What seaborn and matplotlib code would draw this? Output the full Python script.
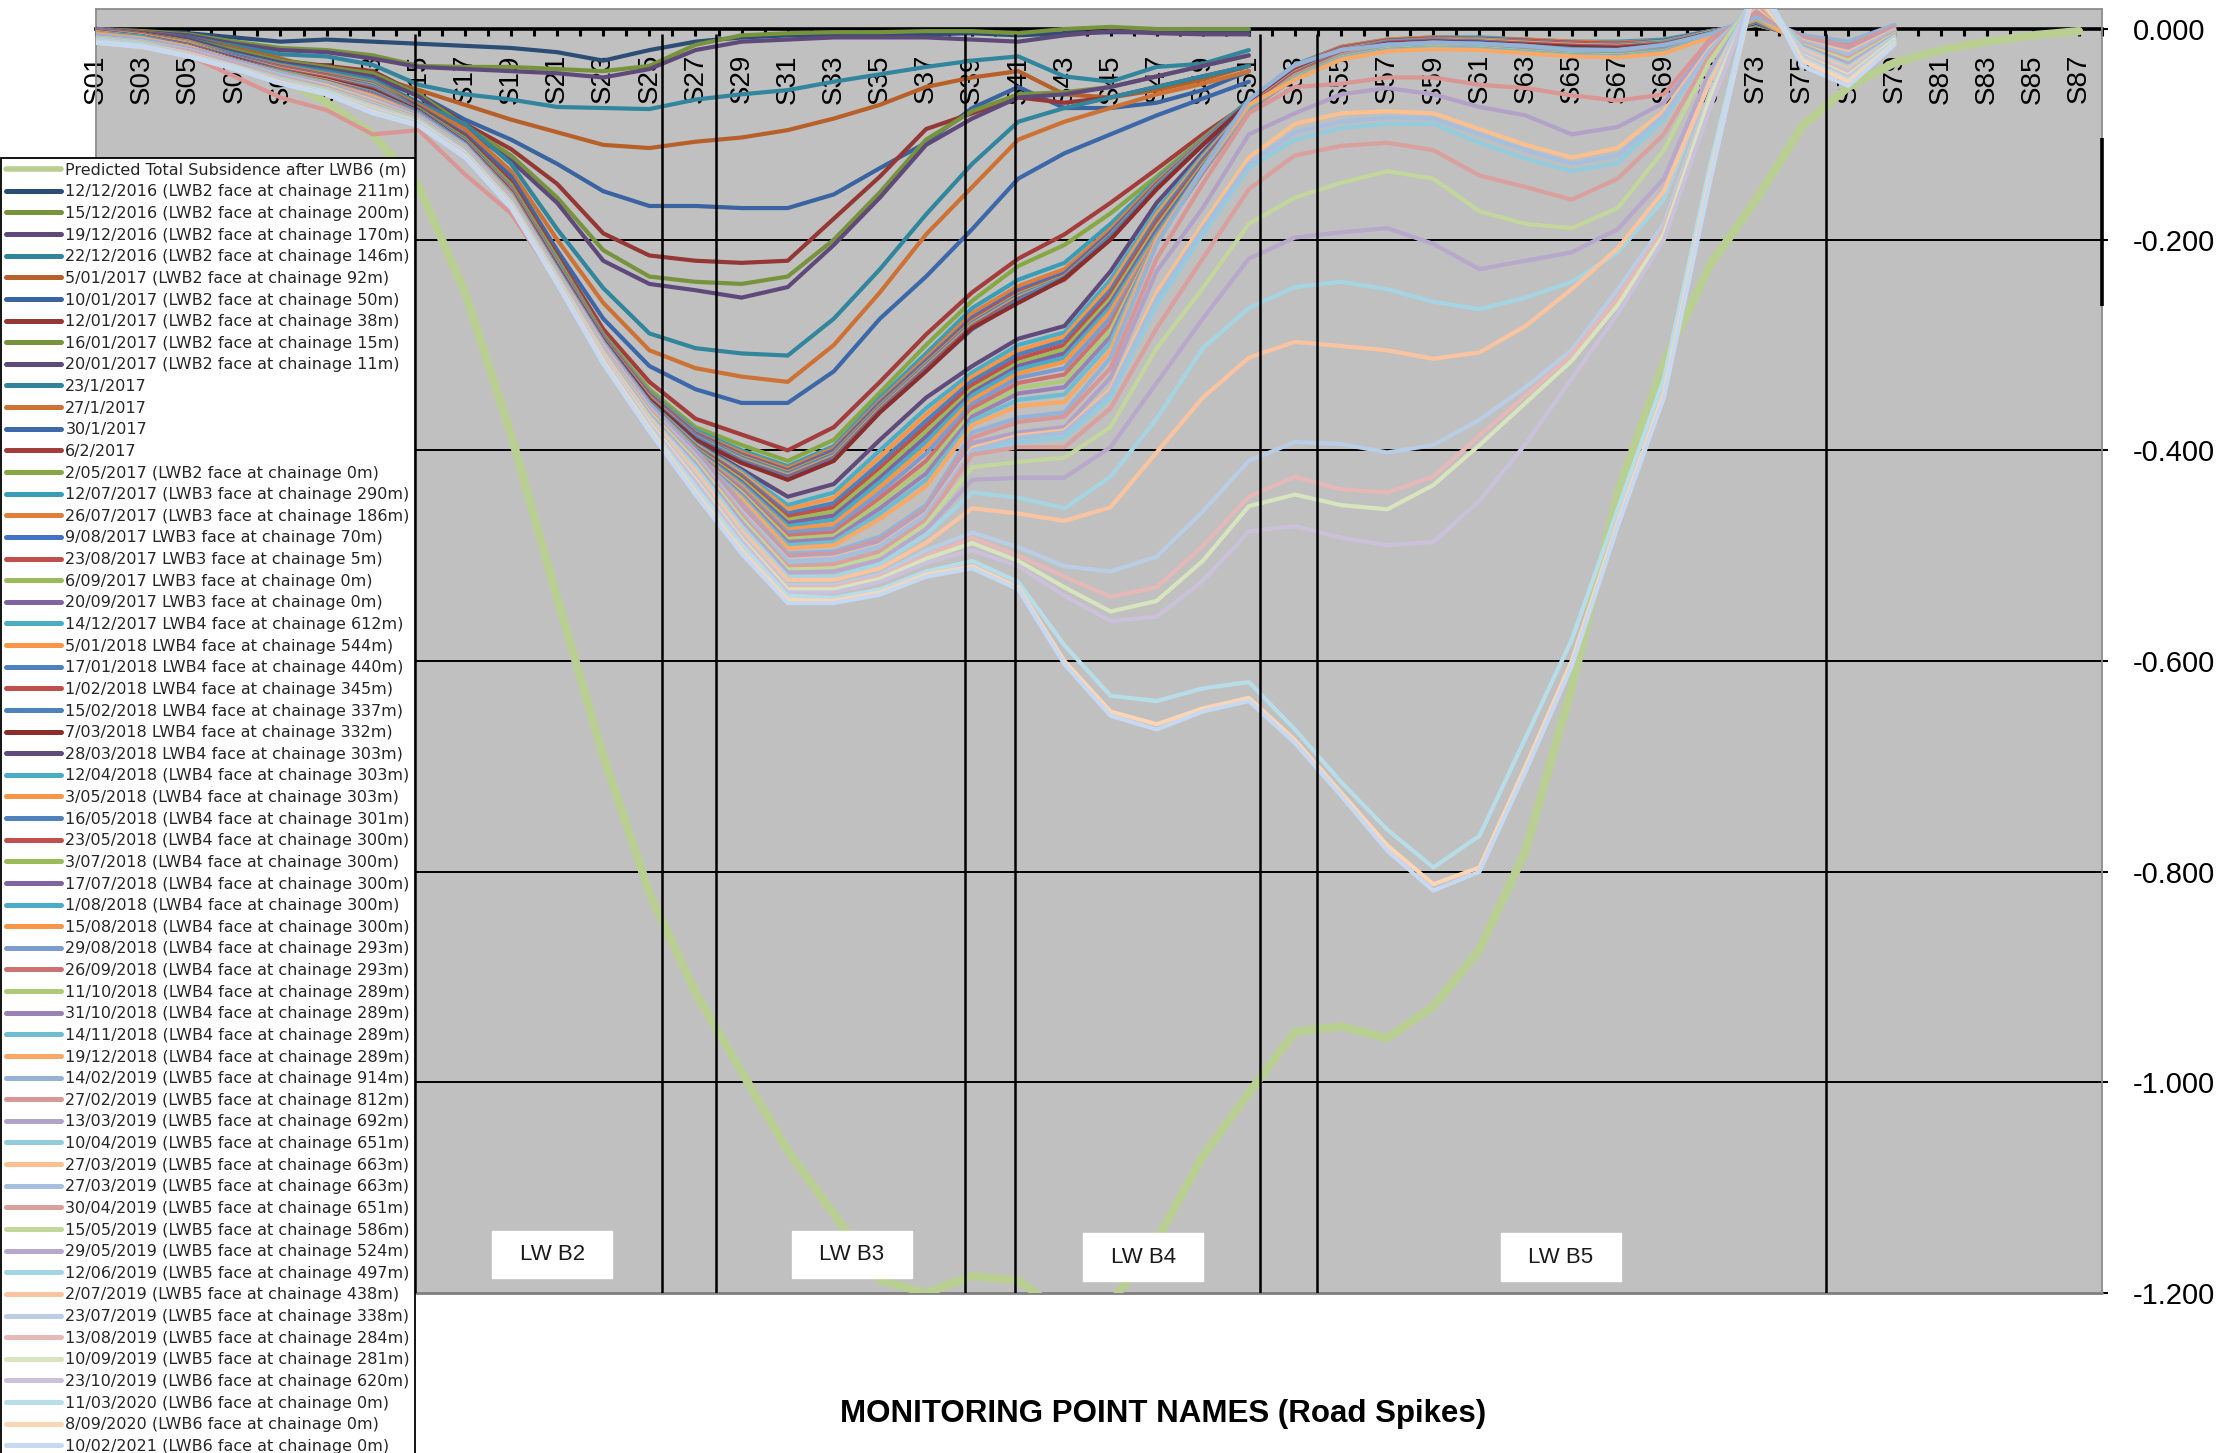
import matplotlib
matplotlib.use("Agg")
import matplotlib.pyplot as plt
import pandas as pd
import seaborn as sns
from matplotlib.lines import Line2D
from matplotlib.patches import Rectangle
from matplotlib.ticker import FixedLocator, FixedFormatter, FormatStrFormatter

sns.set_theme(style="white")
plt.rcParams['font.family'] = ['Liberation Sans', 'DejaVu Sans']
plt.rcParams['axes.unicode_minus'] = False

# ---------------- data ----------------
odd_stations = ["S01", "S03", "S05", "S07", "S09", "S11", "S13", "S15", "S17", "S19", "S21",
                "S23", "S25", "S27", "S29", "S31", "S33", "S35", "S37", "S39", "S41", "S43",
                "S45", "S47", "S49", "S51", "S53", "S55", "S57", "S59", "S61", "S63", "S65",
                "S67", "S69", "S71", "S73", "S75", "S77", "S79", "S81", "S83", "S85", "S87"]

predicted = [-0.005, -0.01, -0.02, -0.03, -0.045, -0.07, -0.10, -0.15, -0.25, -0.385, -0.54,
             -0.69, -0.82, -0.915, -0.99, -1.065, -1.125, -1.188, -1.2, -1.184, -1.188, -1.22,
             -1.21, -1.15, -1.07, -1.01, -0.952, -0.947, -0.958, -0.928, -0.874, -0.78, -0.626,
             -0.44, -0.317, -0.224, -0.162, -0.092, -0.055, -0.032, -0.02, -0.012, -0.006, -0.002]

# LWB2 surveys (S01-S51)
s02 = [0.0, -0.002, -0.004, -0.008, -0.012, -0.01, -0.012, -0.014, -0.016, -0.018, -0.022, -0.03, -0.02, -0.012, -0.008, -0.006, -0.006, -0.005, -0.005, -0.004, -0.006, -0.004, -0.003, -0.003, -0.002, -0.002]
s03 = [0.0, -0.002, -0.005, -0.012, -0.018, -0.02, -0.025, -0.035, -0.036, -0.036, -0.038, -0.04, -0.035, -0.015, -0.006, -0.004, -0.003, -0.003, -0.002, -0.002, -0.004, 0.0, 0.002, 0.0, 0.0, 0.0]
s04 = [0.0, -0.003, -0.006, -0.014, -0.02, -0.022, -0.028, -0.036, -0.038, -0.04, -0.042, -0.046, -0.038, -0.02, -0.012, -0.01, -0.008, -0.008, -0.008, -0.01, -0.012, -0.006, -0.002, -0.004, -0.005, -0.005]
s05 = [0.0, -0.003, -0.008, -0.016, -0.024, -0.026, -0.034, -0.053, -0.062, -0.067, -0.074, -0.075, -0.076, -0.067, -0.062, -0.058, -0.05, -0.043, -0.036, -0.03, -0.026, -0.045, -0.05, -0.036, -0.033, -0.02]
s06 = [0.0, -0.003, -0.008, -0.018, -0.028, -0.04, -0.045, -0.058, -0.072, -0.086, -0.098, -0.11, -0.113, -0.107, -0.103, -0.096, -0.085, -0.072, -0.055, -0.046, -0.04, -0.062, -0.065, -0.058, -0.048, -0.035]
s07 = [0.0, -0.004, -0.008, -0.02, -0.03, -0.042, -0.048, -0.062, -0.086, -0.105, -0.128, -0.154, -0.168, -0.168, -0.17, -0.17, -0.157, -0.132, -0.108, -0.075, -0.055, -0.075, -0.075, -0.07, -0.058, -0.04]
s08 = [0.0, -0.004, -0.01, -0.022, -0.03, -0.035, -0.04, -0.062, -0.09, -0.114, -0.147, -0.194, -0.215, -0.22, -0.222, -0.22, -0.18, -0.14, -0.095, -0.08, -0.065, -0.07, -0.065, -0.055, -0.045, -0.035]
s09 = [0.0, -0.004, -0.01, -0.02, -0.03, -0.036, -0.042, -0.062, -0.092, -0.12, -0.16, -0.21, -0.235, -0.24, -0.242, -0.235, -0.2, -0.155, -0.105, -0.078, -0.062, -0.06, -0.055, -0.045, -0.035, -0.025]
s10 = [0.0, -0.004, -0.01, -0.022, -0.032, -0.038, -0.045, -0.064, -0.095, -0.125, -0.165, -0.22, -0.242, -0.248, -0.255, -0.245, -0.205, -0.16, -0.11, -0.085, -0.065, -0.062, -0.055, -0.045, -0.035, -0.025]
s11 = [0.0, -0.005, -0.012, -0.024, -0.034, -0.04, -0.048, -0.07, -0.09, -0.128, -0.19, -0.246, -0.289, -0.303, -0.308, -0.31, -0.275, -0.228, -0.176, -0.128, -0.088, -0.075, -0.065, -0.055, -0.045, -0.035]
s12 = [0.0, -0.005, -0.012, -0.025, -0.035, -0.042, -0.05, -0.072, -0.095, -0.135, -0.2, -0.26, -0.305, -0.322, -0.33, -0.335, -0.3, -0.25, -0.195, -0.15, -0.105, -0.088, -0.075, -0.062, -0.052, -0.04]
s13 = [0.0, -0.005, -0.013, -0.026, -0.036, -0.044, -0.052, -0.074, -0.1, -0.14, -0.21, -0.275, -0.32, -0.342, -0.355, -0.355, -0.325, -0.275, -0.235, -0.19, -0.142, -0.118, -0.1, -0.082, -0.066, -0.05]
s14 = [0.0, -0.005, -0.013, -0.027, -0.037, -0.045, -0.054, -0.075, -0.102, -0.145, -0.215, -0.285, -0.335, -0.37, -0.385, -0.4, -0.378, -0.335, -0.29, -0.25, -0.218, -0.195, -0.165, -0.133, -0.1, -0.07]
s15 = [0.0, -0.006, -0.014, -0.028, -0.038, -0.046, -0.055, -0.076, -0.104, -0.148, -0.218, -0.29, -0.342, -0.378, -0.395, -0.41, -0.39, -0.345, -0.3, -0.258, -0.225, -0.205, -0.175, -0.14, -0.104, -0.068]

# LWB3 / LWB4 surveys (S01-S79)
s16 = [0.0, -0.005, -0.012, -0.024, -0.034, -0.042, -0.05, -0.077, -0.105, -0.15, -0.22, -0.291, -0.345, -0.381, -0.4, -0.415, -0.396, -0.35, -0.308, -0.265, -0.238, -0.222, -0.185, -0.143, -0.105, -0.068, -0.034, -0.017, -0.01, -0.008, -0.008, -0.01, -0.012, -0.012, -0.01, -0.002, 0.004, -0.006, -0.014, -0.004]
s17 = [0.0, -0.005, -0.012, -0.025, -0.035, -0.043, -0.051, -0.077, -0.106, -0.151, -0.221, -0.292, -0.346, -0.383, -0.402, -0.417, -0.398, -0.353, -0.312, -0.27, -0.244, -0.228, -0.19, -0.145, -0.106, -0.069, -0.035, -0.017, -0.01, -0.008, -0.009, -0.01, -0.012, -0.013, -0.011, -0.002, 0.005, -0.006, -0.015, -0.004]
s18 = [0.0, -0.005, -0.013, -0.025, -0.036, -0.044, -0.052, -0.077, -0.106, -0.152, -0.222, -0.293, -0.347, -0.384, -0.404, -0.419, -0.4, -0.355, -0.315, -0.274, -0.248, -0.232, -0.193, -0.147, -0.107, -0.069, -0.036, -0.018, -0.011, -0.009, -0.009, -0.011, -0.013, -0.014, -0.011, -0.002, 0.005, -0.007, -0.015, -0.005]
s19 = [-0.001, -0.005, -0.013, -0.026, -0.036, -0.044, -0.053, -0.078, -0.107, -0.152, -0.223, -0.293, -0.348, -0.385, -0.405, -0.42, -0.402, -0.357, -0.317, -0.276, -0.25, -0.234, -0.195, -0.148, -0.108, -0.07, -0.036, -0.018, -0.011, -0.009, -0.01, -0.011, -0.013, -0.014, -0.012, -0.003, 0.004, -0.007, -0.016, -0.005]
s20 = [-0.001, -0.006, -0.013, -0.026, -0.037, -0.045, -0.053, -0.078, -0.107, -0.153, -0.223, -0.294, -0.349, -0.386, -0.406, -0.421, -0.403, -0.358, -0.318, -0.278, -0.252, -0.235, -0.196, -0.149, -0.108, -0.07, -0.037, -0.019, -0.012, -0.01, -0.01, -0.012, -0.014, -0.015, -0.012, -0.003, 0.004, -0.007, -0.016, -0.005]
s21 = [-0.001, -0.006, -0.014, -0.026, -0.037, -0.045, -0.054, -0.078, -0.107, -0.153, -0.224, -0.294, -0.349, -0.386, -0.407, -0.422, -0.404, -0.359, -0.319, -0.279, -0.253, -0.236, -0.197, -0.15, -0.109, -0.07, -0.037, -0.019, -0.012, -0.01, -0.011, -0.012, -0.014, -0.015, -0.013, -0.003, 0.005, -0.008, -0.016, -0.005]
s22 = [-0.002, -0.006, -0.014, -0.027, -0.038, -0.046, -0.055, -0.078, -0.107, -0.153, -0.224, -0.295, -0.35, -0.387, -0.408, -0.423, -0.405, -0.36, -0.32, -0.28, -0.254, -0.236, -0.197, -0.15, -0.109, -0.07, -0.038, -0.02, -0.012, -0.01, -0.011, -0.013, -0.015, -0.016, -0.013, -0.003, 0.005, -0.008, -0.017, -0.005]
s23 = [-0.002, -0.006, -0.014, -0.027, -0.038, -0.046, -0.056, -0.078, -0.107, -0.154, -0.225, -0.295, -0.35, -0.388, -0.409, -0.424, -0.406, -0.361, -0.321, -0.281, -0.255, -0.237, -0.198, -0.151, -0.109, -0.07, -0.038, -0.02, -0.013, -0.011, -0.011, -0.013, -0.015, -0.016, -0.014, -0.003, 0.006, -0.008, -0.017, -0.006]
s24 = [-0.002, -0.007, -0.015, -0.027, -0.039, -0.047, -0.056, -0.078, -0.108, -0.154, -0.225, -0.295, -0.351, -0.388, -0.41, -0.425, -0.407, -0.362, -0.322, -0.282, -0.256, -0.237, -0.198, -0.151, -0.11, -0.07, -0.039, -0.021, -0.013, -0.011, -0.012, -0.014, -0.016, -0.017, -0.014, -0.004, 0.006, -0.008, -0.017, -0.006]
s25 = [-0.002, -0.007, -0.015, -0.028, -0.039, -0.047, -0.057, -0.078, -0.108, -0.154, -0.225, -0.296, -0.351, -0.389, -0.411, -0.426, -0.408, -0.362, -0.323, -0.283, -0.257, -0.238, -0.199, -0.152, -0.11, -0.07, -0.039, -0.021, -0.013, -0.011, -0.012, -0.014, -0.016, -0.017, -0.014, -0.004, 0.006, -0.009, -0.018, -0.006]
s26 = [-0.003, -0.007, -0.015, -0.028, -0.04, -0.048, -0.058, -0.078, -0.108, -0.155, -0.226, -0.296, -0.352, -0.389, -0.411, -0.427, -0.409, -0.363, -0.324, -0.285, -0.258, -0.236, -0.197, -0.15, -0.109, -0.069, -0.04, -0.021, -0.014, -0.012, -0.012, -0.015, -0.017, -0.018, -0.015, -0.004, 0.006, -0.009, -0.018, -0.006]
s27 = [-0.003, -0.007, -0.016, -0.028, -0.04, -0.048, -0.058, -0.078, -0.108, -0.155, -0.226, -0.296, -0.352, -0.39, -0.412, -0.428, -0.41, -0.364, -0.325, -0.284, -0.26, -0.237, -0.2, -0.152, -0.11, -0.07, -0.04, -0.022, -0.014, -0.012, -0.013, -0.015, -0.017, -0.018, -0.015, -0.004, 0.006, -0.009, -0.018, -0.006]
s28 = [-0.003, -0.007, -0.016, -0.029, -0.04, -0.049, -0.06, -0.079, -0.108, -0.156, -0.227, -0.297, -0.354, -0.393, -0.418, -0.444, -0.432, -0.39, -0.35, -0.32, -0.294, -0.282, -0.23, -0.165, -0.117, -0.072, -0.04, -0.022, -0.014, -0.012, -0.013, -0.016, -0.019, -0.019, -0.016, -0.004, 0.006, -0.009, -0.019, -0.006]
s29 = [-0.003, -0.007, -0.016, -0.029, -0.04, -0.049, -0.06, -0.079, -0.109, -0.156, -0.227, -0.297, -0.354, -0.394, -0.42, -0.452, -0.44, -0.4, -0.36, -0.326, -0.3, -0.288, -0.238, -0.172, -0.12, -0.073, -0.041, -0.022, -0.015, -0.013, -0.014, -0.016, -0.019, -0.02, -0.016, -0.004, 0.007, -0.009, -0.019, -0.006]
s30 = [-0.003, -0.008, -0.016, -0.029, -0.041, -0.049, -0.061, -0.079, -0.109, -0.156, -0.228, -0.298, -0.355, -0.395, -0.422, -0.456, -0.445, -0.406, -0.366, -0.33, -0.305, -0.292, -0.243, -0.176, -0.122, -0.073, -0.041, -0.023, -0.015, -0.013, -0.014, -0.017, -0.02, -0.02, -0.017, -0.005, 0.007, -0.01, -0.02, -0.007]
s31 = [-0.004, -0.008, -0.016, -0.029, -0.041, -0.05, -0.061, -0.079, -0.109, -0.157, -0.228, -0.298, -0.355, -0.396, -0.424, -0.46, -0.45, -0.412, -0.372, -0.334, -0.309, -0.296, -0.248, -0.18, -0.124, -0.074, -0.042, -0.023, -0.015, -0.013, -0.014, -0.017, -0.02, -0.021, -0.017, -0.005, 0.007, -0.01, -0.02, -0.007]
s32 = [-0.004, -0.008, -0.016, -0.029, -0.041, -0.05, -0.062, -0.08, -0.11, -0.157, -0.228, -0.298, -0.356, -0.397, -0.426, -0.463, -0.454, -0.417, -0.377, -0.338, -0.313, -0.3, -0.252, -0.184, -0.127, -0.074, -0.042, -0.023, -0.016, -0.014, -0.015, -0.018, -0.021, -0.021, -0.018, -0.005, 0.008, -0.01, -0.021, -0.007]
s33 = [-0.004, -0.008, -0.017, -0.03, -0.041, -0.05, -0.062, -0.08, -0.11, -0.157, -0.229, -0.299, -0.356, -0.398, -0.428, -0.466, -0.458, -0.421, -0.382, -0.342, -0.317, -0.304, -0.256, -0.188, -0.129, -0.075, -0.043, -0.024, -0.016, -0.014, -0.015, -0.018, -0.021, -0.022, -0.018, -0.005, 0.008, -0.011, -0.021, -0.007]
s34 = [-0.004, -0.008, -0.017, -0.03, -0.042, -0.05, -0.062, -0.08, -0.11, -0.158, -0.229, -0.299, -0.357, -0.399, -0.43, -0.469, -0.462, -0.426, -0.387, -0.345, -0.32, -0.308, -0.26, -0.191, -0.131, -0.075, -0.043, -0.024, -0.016, -0.014, -0.016, -0.019, -0.022, -0.022, -0.019, -0.006, 0.008, -0.011, -0.022, -0.008]
s35 = [-0.004, -0.008, -0.017, -0.03, -0.042, -0.051, -0.063, -0.08, -0.11, -0.158, -0.229, -0.3, -0.357, -0.4, -0.432, -0.472, -0.466, -0.43, -0.392, -0.348, -0.323, -0.312, -0.264, -0.195, -0.133, -0.076, -0.044, -0.025, -0.017, -0.015, -0.016, -0.019, -0.022, -0.023, -0.019, -0.006, 0.009, -0.011, -0.022, -0.008]
s36 = [-0.004, -0.009, -0.017, -0.03, -0.042, -0.051, -0.063, -0.081, -0.111, -0.158, -0.23, -0.3, -0.358, -0.401, -0.434, -0.475, -0.47, -0.435, -0.397, -0.352, -0.327, -0.316, -0.268, -0.198, -0.135, -0.076, -0.044, -0.025, -0.017, -0.015, -0.016, -0.02, -0.023, -0.023, -0.02, -0.006, 0.009, -0.012, -0.023, -0.008]
s37 = [-0.005, -0.009, -0.017, -0.03, -0.042, -0.051, -0.063, -0.081, -0.111, -0.159, -0.23, -0.3, -0.358, -0.402, -0.436, -0.478, -0.474, -0.44, -0.403, -0.356, -0.331, -0.322, -0.274, -0.2, -0.136, -0.077, -0.045, -0.026, -0.018, -0.016, -0.017, -0.02, -0.023, -0.024, -0.02, -0.006, 0.01, -0.012, -0.023, -0.008]
s38 = [-0.005, -0.009, -0.017, -0.03, -0.042, -0.051, -0.063, -0.081, -0.111, -0.159, -0.23, -0.301, -0.359, -0.403, -0.438, -0.481, -0.478, -0.445, -0.41, -0.36, -0.336, -0.328, -0.28, -0.2, -0.136, -0.077, -0.046, -0.027, -0.019, -0.017, -0.018, -0.021, -0.024, -0.025, -0.021, -0.007, 0.01, -0.012, -0.024, -0.009]
s39 = [-0.005, -0.009, -0.017, -0.03, -0.042, -0.051, -0.064, -0.081, -0.111, -0.159, -0.231, -0.301, -0.359, -0.404, -0.44, -0.484, -0.481, -0.45, -0.416, -0.364, -0.341, -0.334, -0.286, -0.2, -0.135, -0.076, -0.046, -0.027, -0.019, -0.017, -0.018, -0.021, -0.024, -0.025, -0.021, -0.007, 0.01, -0.013, -0.024, -0.009]
s40 = [-0.005, -0.009, -0.017, -0.03, -0.042, -0.052, -0.064, -0.081, -0.111, -0.16, -0.231, -0.302, -0.36, -0.405, -0.442, -0.487, -0.484, -0.455, -0.422, -0.368, -0.346, -0.34, -0.292, -0.2, -0.135, -0.075, -0.047, -0.028, -0.02, -0.018, -0.019, -0.022, -0.025, -0.026, -0.022, -0.007, 0.011, -0.013, -0.025, -0.009]
s41 = [-0.005, -0.009, -0.017, -0.03, -0.042, -0.052, -0.064, -0.082, -0.112, -0.16, -0.231, -0.302, -0.36, -0.406, -0.444, -0.49, -0.487, -0.46, -0.428, -0.372, -0.352, -0.347, -0.298, -0.2, -0.134, -0.074, -0.047, -0.028, -0.02, -0.018, -0.019, -0.022, -0.025, -0.026, -0.022, -0.007, 0.011, -0.013, -0.025, -0.009]
s42 = [-0.005, -0.009, -0.017, -0.03, -0.042, -0.052, -0.064, -0.082, -0.112, -0.16, -0.232, -0.302, -0.361, -0.407, -0.446, -0.493, -0.49, -0.465, -0.434, -0.376, -0.358, -0.354, -0.305, -0.2, -0.133, -0.072, -0.048, -0.029, -0.021, -0.019, -0.02, -0.023, -0.026, -0.027, -0.023, -0.008, 0.012, -0.014, -0.026, -0.01]

# LWB5 / LWB6 surveys (S01-S79)
s43 = [-0.006, -0.01, -0.018, -0.03, -0.042, -0.052, -0.066, -0.082, -0.11, -0.158, -0.229, -0.298, -0.356, -0.4, -0.45, -0.498, -0.496, -0.482, -0.452, -0.383, -0.369, -0.364, -0.312, -0.204, -0.133, -0.067, -0.034, -0.02, -0.015, -0.013, -0.014, -0.016, -0.02, -0.02, -0.015, -0.005, 0.012, -0.006, -0.012, 0.004]
s44 = [-0.008, -0.012, -0.025, -0.045, -0.065, -0.077, -0.1, -0.096, -0.138, -0.175, -0.24, -0.3, -0.358, -0.402, -0.452, -0.5, -0.498, -0.485, -0.455, -0.388, -0.373, -0.368, -0.322, -0.218, -0.147, -0.08, -0.055, -0.052, -0.046, -0.046, -0.053, -0.056, -0.063, -0.068, -0.062, -0.01, 0.016, -0.008, -0.016, 0.002]
s45 = [-0.007, -0.011, -0.019, -0.031, -0.043, -0.053, -0.067, -0.083, -0.111, -0.159, -0.23, -0.3, -0.358, -0.403, -0.455, -0.502, -0.5, -0.487, -0.457, -0.393, -0.383, -0.378, -0.331, -0.23, -0.17, -0.1, -0.08, -0.062, -0.056, -0.062, -0.074, -0.082, -0.1, -0.093, -0.07, -0.015, 0.02, -0.01, -0.02, 0.0]
s46 = [-0.008, -0.012, -0.02, -0.032, -0.044, -0.054, -0.068, -0.084, -0.112, -0.16, -0.231, -0.302, -0.36, -0.406, -0.46, -0.506, -0.504, -0.492, -0.462, -0.402, -0.392, -0.388, -0.35, -0.262, -0.195, -0.132, -0.105, -0.094, -0.09, -0.09, -0.108, -0.123, -0.135, -0.127, -0.086, -0.02, 0.025, -0.012, -0.025, -0.002]
s47 = [-0.008, -0.012, -0.02, -0.032, -0.044, -0.054, -0.068, -0.084, -0.112, -0.16, -0.231, -0.301, -0.36, -0.405, -0.458, -0.504, -0.502, -0.49, -0.46, -0.398, -0.386, -0.381, -0.342, -0.25, -0.185, -0.122, -0.09, -0.08, -0.078, -0.08, -0.095, -0.11, -0.122, -0.113, -0.078, -0.018, 0.022, -0.011, -0.022, -0.001]
s48 = [-0.008, -0.012, -0.02, -0.032, -0.044, -0.055, -0.069, -0.084, -0.112, -0.16, -0.231, -0.302, -0.36, -0.405, -0.459, -0.505, -0.503, -0.491, -0.461, -0.4, -0.388, -0.383, -0.345, -0.256, -0.19, -0.128, -0.098, -0.088, -0.084, -0.085, -0.1, -0.115, -0.128, -0.12, -0.082, -0.02, 0.025, -0.012, -0.024, -0.002]
s49 = [-0.009, -0.013, -0.021, -0.033, -0.046, -0.056, -0.07, -0.085, -0.113, -0.161, -0.232, -0.304, -0.362, -0.408, -0.462, -0.51, -0.508, -0.496, -0.466, -0.404, -0.397, -0.397, -0.36, -0.284, -0.218, -0.152, -0.12, -0.111, -0.108, -0.115, -0.139, -0.15, -0.162, -0.142, -0.1, -0.025, 0.025, -0.014, -0.028, -0.004]
s50 = [-0.009, -0.013, -0.022, -0.034, -0.047, -0.057, -0.071, -0.086, -0.114, -0.162, -0.233, -0.305, -0.364, -0.41, -0.465, -0.513, -0.512, -0.5, -0.47, -0.416, -0.411, -0.407, -0.378, -0.303, -0.246, -0.185, -0.16, -0.146, -0.135, -0.142, -0.173, -0.185, -0.189, -0.17, -0.115, -0.03, 0.03, -0.015, -0.03, -0.005]
s51 = [-0.01, -0.014, -0.022, -0.034, -0.048, -0.058, -0.072, -0.087, -0.115, -0.163, -0.234, -0.306, -0.366, -0.413, -0.468, -0.516, -0.515, -0.504, -0.475, -0.428, -0.426, -0.426, -0.397, -0.336, -0.275, -0.218, -0.198, -0.193, -0.189, -0.204, -0.228, -0.22, -0.212, -0.19, -0.142, -0.04, 0.03, -0.016, -0.033, -0.006]
s52 = [-0.01, -0.014, -0.023, -0.035, -0.048, -0.058, -0.073, -0.087, -0.116, -0.164, -0.235, -0.307, -0.368, -0.416, -0.472, -0.52, -0.52, -0.508, -0.48, -0.44, -0.445, -0.455, -0.425, -0.37, -0.303, -0.265, -0.245, -0.24, -0.247, -0.259, -0.266, -0.255, -0.24, -0.212, -0.162, -0.048, 0.035, -0.018, -0.036, -0.007]
s53 = [-0.011, -0.015, -0.023, -0.035, -0.049, -0.059, -0.074, -0.088, -0.117, -0.165, -0.236, -0.308, -0.37, -0.42, -0.476, -0.523, -0.523, -0.512, -0.488, -0.455, -0.46, -0.467, -0.454, -0.402, -0.35, -0.312, -0.297, -0.301, -0.305, -0.313, -0.307, -0.282, -0.247, -0.208, -0.154, -0.05, 0.03, -0.02, -0.038, -0.008]
s54 = [-0.011, -0.015, -0.024, -0.035, -0.049, -0.059, -0.075, -0.088, -0.117, -0.165, -0.237, -0.31, -0.372, -0.424, -0.48, -0.528, -0.528, -0.518, -0.495, -0.478, -0.492, -0.51, -0.515, -0.501, -0.458, -0.41, -0.392, -0.394, -0.402, -0.395, -0.371, -0.34, -0.305, -0.247, -0.185, -0.06, 0.04, -0.022, -0.04, -0.008]
s55 = [-0.012, -0.016, -0.024, -0.036, -0.05, -0.06, -0.076, -0.089, -0.118, -0.166, -0.238, -0.311, -0.373, -0.426, -0.482, -0.53, -0.53, -0.52, -0.5, -0.483, -0.5, -0.52, -0.539, -0.53, -0.491, -0.444, -0.425, -0.437, -0.44, -0.425, -0.386, -0.348, -0.309, -0.255, -0.19, -0.065, 0.035, -0.024, -0.042, -0.01]
s56 = [-0.012, -0.016, -0.025, -0.036, -0.05, -0.06, -0.076, -0.089, -0.118, -0.166, -0.238, -0.312, -0.374, -0.428, -0.484, -0.532, -0.532, -0.522, -0.503, -0.488, -0.505, -0.53, -0.553, -0.543, -0.505, -0.453, -0.442, -0.452, -0.456, -0.433, -0.395, -0.355, -0.315, -0.262, -0.195, -0.065, 0.035, -0.025, -0.044, -0.01]
s57 = [-0.012, -0.016, -0.025, -0.037, -0.05, -0.061, -0.077, -0.09, -0.119, -0.167, -0.239, -0.313, -0.376, -0.43, -0.486, -0.535, -0.535, -0.525, -0.507, -0.495, -0.51, -0.538, -0.562, -0.558, -0.524, -0.477, -0.472, -0.483, -0.49, -0.487, -0.448, -0.394, -0.332, -0.27, -0.2, -0.075, 0.04, -0.026, -0.046, -0.012]
s58 = [-0.012, -0.016, -0.025, -0.037, -0.051, -0.061, -0.078, -0.091, -0.12, -0.168, -0.24, -0.315, -0.378, -0.435, -0.49, -0.538, -0.54, -0.532, -0.515, -0.505, -0.525, -0.585, -0.633, -0.638, -0.626, -0.62, -0.665, -0.715, -0.76, -0.796, -0.766, -0.673, -0.58, -0.456, -0.332, -0.13, 0.05, -0.028, -0.048, -0.012]
s59 = [-0.013, -0.017, -0.026, -0.038, -0.051, -0.062, -0.079, -0.092, -0.121, -0.169, -0.241, -0.316, -0.38, -0.44, -0.495, -0.542, -0.543, -0.535, -0.518, -0.51, -0.53, -0.6, -0.648, -0.66, -0.645, -0.635, -0.675, -0.725, -0.775, -0.812, -0.796, -0.7, -0.6, -0.468, -0.345, -0.14, 0.045, -0.03, -0.05, -0.014]
s60 = [-0.013, -0.017, -0.026, -0.038, -0.052, -0.062, -0.08, -0.092, -0.122, -0.17, -0.242, -0.318, -0.382, -0.442, -0.498, -0.545, -0.545, -0.537, -0.52, -0.512, -0.532, -0.603, -0.652, -0.665, -0.648, -0.638, -0.678, -0.728, -0.78, -0.818, -0.8, -0.705, -0.605, -0.472, -0.35, -0.145, 0.05, -0.035, -0.054, -0.015]

series_labels = [
    "Predicted Total Subsidence after LWB6 (m)",
    "12/12/2016 (LWB2 face at chainage 211m)",
    "15/12/2016 (LWB2 face at chainage 200m)",
    "19/12/2016 (LWB2 face at chainage 170m)",
    "22/12/2016 (LWB2 face at chainage 146m)",
    "5/01/2017 (LWB2 face at chainage 92m)",
    "10/01/2017 (LWB2 face at chainage 50m)",
    "12/01/2017 (LWB2 face at chainage 38m)",
    "16/01/2017 (LWB2 face at chainage 15m)",
    "20/01/2017 (LWB2 face at chainage 11m)",
    "23/1/2017",
    "27/1/2017",
    "30/1/2017",
    "6/2/2017",
    "2/05/2017 (LWB2 face at chainage 0m)",
    "12/07/2017 (LWB3 face at chainage 290m)",
    "26/07/2017 (LWB3 face at chainage 186m)",
    "9/08/2017 LWB3 face at chainage 70m)",
    "23/08/2017 LWB3 face at chainage 5m)",
    "6/09/2017 LWB3 face at chainage 0m)",
    "20/09/2017 LWB3 face at chainage 0m)",
    "14/12/2017 LWB4 face at chainage 612m)",
    "5/01/2018 LWB4 face at chainage 544m)",
    "17/01/2018 LWB4 face at chainage 440m)",
    "1/02/2018 LWB4 face at chainage 345m)",
    "15/02/2018 LWB4 face at chainage 337m)",
    "7/03/2018 LWB4 face at chainage 332m)",
    "28/03/2018 LWB4 face at chainage 303m)",
    "12/04/2018 (LWB4 face at chainage 303m)",
    "3/05/2018 (LWB4 face at chainage 303m)",
    "16/05/2018 (LWB4 face at chainage 301m)",
    "23/05/2018 (LWB4 face at chainage 300m)",
    "3/07/2018 (LWB4 face at chainage 300m)",
    "17/07/2018 (LWB4 face at chainage 300m)",
    "1/08/2018 (LWB4 face at chainage 300m)",
    "15/08/2018 (LWB4 face at chainage 300m)",
    "29/08/2018 (LWB4 face at chainage 293m)",
    "26/09/2018 (LWB4 face at chainage 293m)",
    "11/10/2018 (LWB4 face at chainage 289m)",
    "31/10/2018 (LWB4 face at chainage 289m)",
    "14/11/2018 (LWB4 face at chainage 289m)",
    "19/12/2018 (LWB4 face at chainage 289m)",
    "14/02/2019 (LWB5 face at chainage 914m)",
    "27/02/2019 (LWB5 face at chainage 812m)",
    "13/03/2019 (LWB5 face at chainage 692m)",
    "10/04/2019 (LWB5 face at chainage 651m)",
    "27/03/2019 (LWB5 face at chainage 663m)",
    "27/03/2019 (LWB5 face at chainage 663m)",
    "30/04/2019 (LWB5 face at chainage 651m)",
    "15/05/2019 (LWB5 face at chainage 586m)",
    "29/05/2019 (LWB5 face at chainage 524m)",
    "12/06/2019 (LWB5 face at chainage 497m)",
    "2/07/2019 (LWB5 face at chainage 438m)",
    "23/07/2019 (LWB5 face at chainage 338m)",
    "13/08/2019 (LWB5 face at chainage 284m)",
    "10/09/2019 (LWB5 face at chainage 281m)",
    "23/10/2019 (LWB6 face at chainage 620m)",
    "11/03/2020 (LWB6 face at chainage 0m)",
    "8/09/2020 (LWB6 face at chainage 0m)",
    "10/02/2021 (LWB6 face at chainage 0m)",
]

series_values = [predicted, s02, s03, s04, s05, s06, s07, s08, s09, s10, s11, s12, s13, s14, s15,
                 s16, s17, s18, s19, s20, s21, s22, s23, s24, s25, s26, s27, s28, s29, s30, s31,
                 s32, s33, s34, s35, s36, s37, s38, s39, s40, s41, s42, s43, s44, s45, s46, s47,
                 s48, s49, s50, s51, s52, s53, s54, s55, s56, s57, s58, s59, s60]

series_colors = [
    "#B9CF92", "#2C4D75", "#77933C", "#5F497A", "#31859C", "#B7602A", "#3A64A0", "#953735",
    "#77933C", "#5F497A", "#31859C", "#CD7234", "#3C68AA", "#A33C3A", "#86A844", "#3A9DB8",
    "#E07E3C", "#4472C4", "#C0504D", "#9BBB59", "#8064A2", "#4BACC6", "#F79646", "#4F81BD",
    "#C0504D", "#4F81BD", "#8B2E2B", "#604A7B", "#4BACC6", "#F79646", "#4F81BD", "#C0504D",
    "#9BBB59", "#8064A2", "#4BACC6", "#F79646", "#7C9CCF", "#CD7371", "#AFC97A", "#9983B5",
    "#6FBDD1", "#F9A866", "#95B3D7", "#D99694", "#B3A2C7", "#93CDDD", "#FAC08F", "#A7BFDE",
    "#D9A09E", "#C3D69B", "#B7A8CC", "#A5D5E2", "#FBC4A0", "#B9CDE5", "#E6B9B8", "#D7E4BD",
    "#CCC1DA", "#B7DEE8", "#FCD5B5", "#C6D9F1",
]

panel_names = ["LW B2", "LW B3", "LW B4", "LW B5"]

# ---------------- layout / style ----------------
W, H = 2228, 1453
fig = plt.figure(figsize=(W / 100, H / 100), dpi=100)
fig.patch.set_facecolor("white")
ax = fig.add_axes([96 / W, 1 - 1293 / H, (2102 - 96) / W, (1293 - 9) / H])
ax.set_facecolor("#C0C0C0")

station_pos = [int(s[1:]) for s in odd_stations]

for i, (lab, vals, col) in enumerate(zip(series_labels, series_values, series_colors)):
    df = pd.DataFrame({"station": station_pos[:len(vals)], "value": vals})
    sns.lineplot(data=df, x="station", y="value", ax=ax, color=col,
                 linewidth=6.0 if i == 0 else 3.0, estimator=None, sort=False,
                 legend=False, zorder=3)

ax.set_xlim(1, 88)
ax.set_ylim(-1.2, 0.019)
ax.set_xlabel("")
ax.set_ylabel("")

# horizontal gridlines
for g in [-0.2, -0.4, -0.6, -0.8, -1.0]:
    ax.axhline(g, color="black", linewidth=1.4, zorder=1)
ax.axhline(-1.2, color="#808080", linewidth=2.0, zorder=1, clip_on=False)

# panel boundary lines
for px in [14.83, 25.54, 27.89, 38.68, 40.85, 51.48, 53.95, 76.02]:
    ax.vlines(px, -1.2, -0.005, colors="black", linewidth=1.8, zorder=6)

# right-edge dark segment
ax.vlines(88, -0.263, -0.103, colors="black", linewidth=2.6, zorder=6, clip_on=False)

# panel label boxes
for name, cx, cy in zip(panel_names, [20.78, 33.78, 46.42, 64.53], [-1.1635, -1.1635, -1.166, -1.166]):
    ax.add_patch(Rectangle((cx - 2.6, cy - 0.0225), 5.2, 0.045, facecolor="white",
                           edgecolor="white", zorder=7))
    ax.text(cx, cy, name, ha="center", va="center", fontsize=16, color="#1a1a1a", zorder=8)

# x axis at y = 0
ax.set_axisbelow(True)
for side in ["left", "top", "right"]:
    ax.spines[side].set_color("#8c8c8c")
    ax.spines[side].set_linewidth(1.3)
ax.spines["bottom"].set_position(("data", 0))
ax.spines["bottom"].set_color("black")
ax.spines["bottom"].set_linewidth(2.6)
ax.spines["bottom"].set_zorder(2.2)

ax.xaxis.set_major_locator(FixedLocator(station_pos))
ax.xaxis.set_major_formatter(FixedFormatter(odd_stations))
ax.xaxis.set_minor_locator(FixedLocator(list(range(2, 89, 2))))
ax.tick_params(axis="x", which="both", bottom=True, top=False, direction="out",
               length=5, width=2.2, color="black")
ax.tick_params(axis="x", which="major", labelsize=20, labelrotation=90, pad=13,
               labelcolor="black")

ax.yaxis.tick_right()
ax.yaxis.set_major_locator(FixedLocator([0.0, -0.2, -0.4, -0.6, -0.8, -1.0, -1.2]))
ax.yaxis.set_major_formatter(FormatStrFormatter("%.3f"))
ax.tick_params(axis="y", which="major", left=False, right=True, direction="out",
               length=4, width=1.5, color="black", labelsize=21, pad=18,
               labelcolor="black")
for t in ax.get_xticklabels() + ax.get_yticklabels():
    t.set_fontfamily(["Liberation Sans", "DejaVu Sans"])

fig.text(1163 / W, 1 - 1414 / H, "MONITORING POINT NAMES (Road Spikes)", ha="center",
         va="center", fontsize=22.5, fontweight="bold", color="black")

# legend
handles = [Line2D([0], [0], color=c, linewidth=4.0 if i == 0 else 3.6)
           for i, c in enumerate(series_colors)]
leg = fig.legend(handles, series_labels, loc="upper right",
                 bbox_to_anchor=(415 / W, 1 - 158 / H), bbox_transform=fig.transFigure,
                 frameon=True, fancybox=False, framealpha=1, facecolor="white",
                 edgecolor="black", prop={"family": "DejaVu Sans", "size": 11.5},
                 handlelength=3.4, handletextpad=0.3, labelspacing=0.415,
                 borderpad=0.3, borderaxespad=0)
leg.get_frame().set_linewidth(1.3)
for t in leg.get_texts():
    t.set_color("#262626")

fig.savefig("out.png", dpi=100, facecolor="white")
